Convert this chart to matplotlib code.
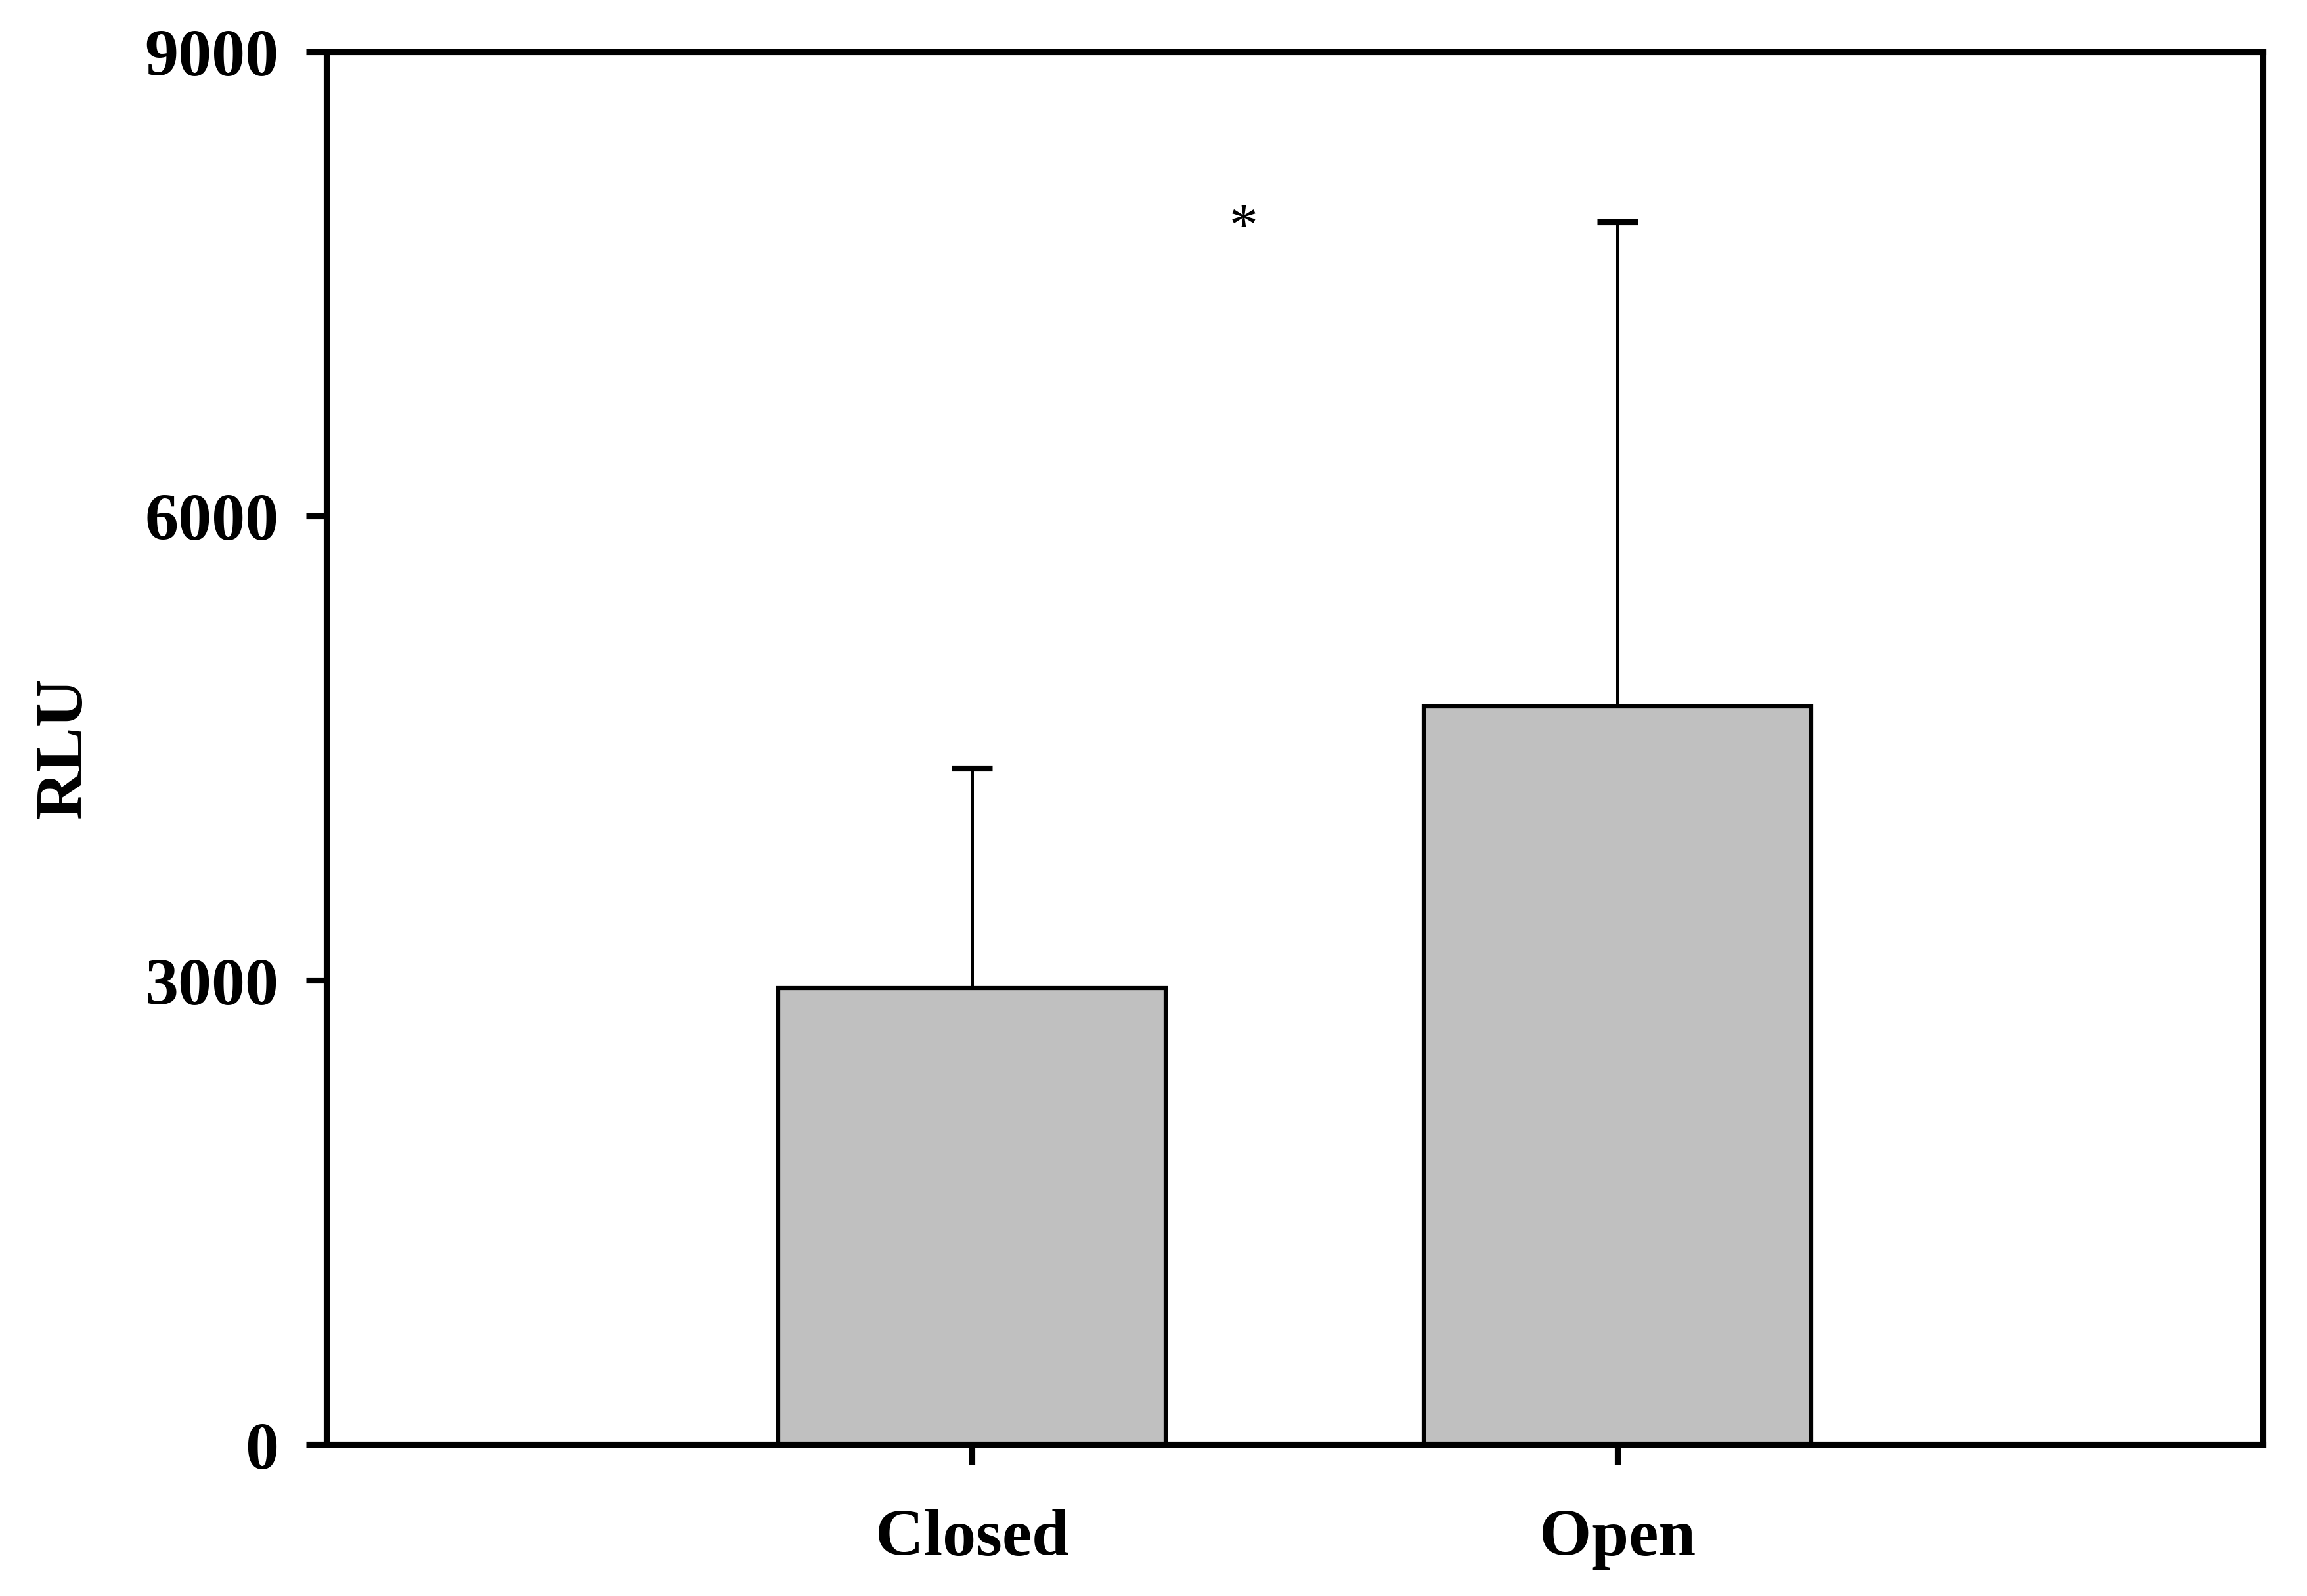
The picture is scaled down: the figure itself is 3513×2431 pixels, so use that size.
import matplotlib
matplotlib.use("Agg")
import matplotlib.pyplot as plt

groups = ["Closed", "Open"]
means = [2950, 4770]
sd_up = [1420, 3130]          # upper error bar length
yticks = [0, 3000, 6000, 9000]
star_text = "*"
star_x, star_y = 1.42, 7850

plt.rcParams["font.family"] = ["Liberation Serif", "DejaVu Serif"]

fig = plt.figure(figsize=(3513 / 300, 2431 / 300), dpi=300)
ax = fig.add_axes([0.1416, 0.0949, 0.981 - 0.1416, 0.9677 - 0.0949])

pos = [1, 2]
ax.bar(pos, means, width=0.6, color="#c0c0c0", edgecolor="black",
       linewidth=1.5, zorder=2)
eb = ax.errorbar(pos, means, yerr=[[0, 0], sd_up], fmt="none", ecolor="black",
                 elinewidth=1.2, capsize=7.5, capthick=2.2, zorder=3)
# one-sided bars: hide the cap that sits on the bar top
eb[1][0].set_visible(False)
ax.text(star_x, star_y, star_text, ha="center", va="center", fontsize=21)

ax.set_xlim(0, 3)
ax.set_ylim(0, 9000)
ax.set_xticks(pos)
ax.set_xticklabels(groups, fontsize=24.5, fontweight="bold")
ax.set_yticks(yticks)
ax.set_yticklabels([str(t) for t in yticks], fontsize=24.5, fontweight="bold")
ax.set_ylabel("RLU", fontsize=24.5, fontweight="bold", labelpad=18)

for s in ax.spines.values():
    s.set_linewidth(2.2)
ax.tick_params(axis="y", direction="out", length=7.5, width=2.2, pad=10)
ax.tick_params(axis="x", direction="out", length=7.5, width=2.2, pad=16)

fig.savefig("out.png", dpi=300)
